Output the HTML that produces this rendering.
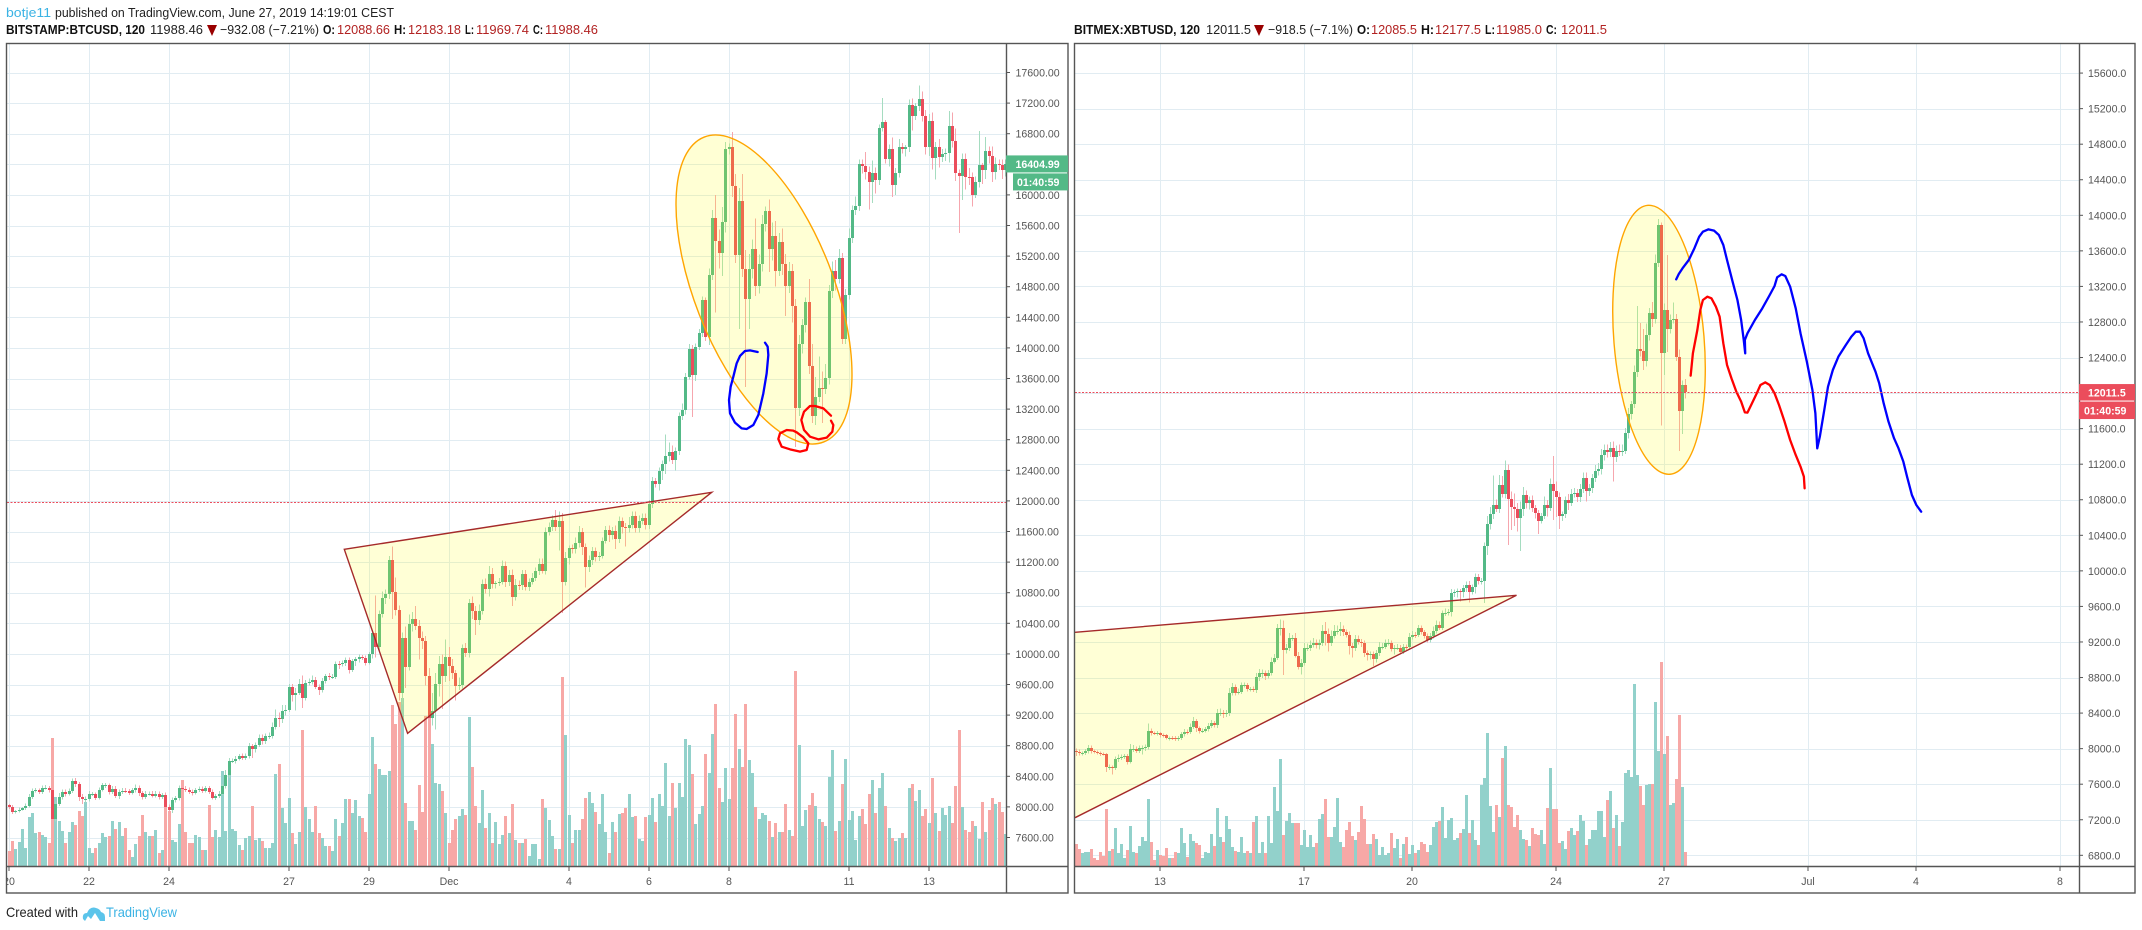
<!DOCTYPE html>
<html lang="en">
<head>
<meta charset="utf-8">
<title>BTCUSD charts</title>
<style>
html,body{margin:0;padding:0;background:#fff;width:2142px;height:930px;overflow:hidden}
svg{display:block}
text{font-family:"Liberation Sans",Arial,sans-serif}
.ax{font-size:10.6px;fill:#555}
.hd{font-size:13px;fill:#222}
.hb{font-size:13px;fill:#111;font-weight:bold}
.hr{font-size:13px;fill:#b22222}
.tag{font-size:10.6px;fill:#fff;font-weight:bold}
.free{fill:none;stroke-width:2.3;stroke-linejoin:round;stroke-linecap:round;vector-effect:non-scaling-stroke}
</style>
</head>
<body>
<svg id="root" xmlns="http://www.w3.org/2000/svg" width="2142" height="930" viewBox="0 0 2142 930">
<defs>
<clipPath id="clipL"><rect x="7" y="44" width="999" height="822"/></clipPath>
<clipPath id="clipR"><rect x="1075" y="44" width="1004" height="822"/></clipPath>
<clipPath id="clipLT"><rect x="7" y="867" width="999" height="26"/></clipPath>
</defs>
<rect width="2142" height="930" fill="#fff"/>

<g>
<text x="6" y="17" class="hd" style="fill:#3bb3e4" textLength="45" lengthAdjust="spacingAndGlyphs">botje11</text>
<text x="55" y="17" class="hd" textLength="339" lengthAdjust="spacingAndGlyphs">published on TradingView.com, June 27, 2019 14:19:01 CEST</text>
<text x="6" y="34" class="hb" textLength="139" lengthAdjust="spacingAndGlyphs">BITSTAMP:BTCUSD, 120</text>
<text x="150" y="34" class="hd" textLength="53" lengthAdjust="spacingAndGlyphs">11988.46</text>
<polygon points="207,25 217,25 212,36" fill="#990000"/>
<text x="220" y="34" class="hd" textLength="99" lengthAdjust="spacingAndGlyphs">−932.08 (−7.21%)</text>
<text x="323" y="34" class="hb" textLength="12" lengthAdjust="spacingAndGlyphs">O:</text>
<text x="337" y="34" class="hr" textLength="53" lengthAdjust="spacingAndGlyphs">12088.66</text>
<text x="394" y="34" class="hb" textLength="12" lengthAdjust="spacingAndGlyphs">H:</text>
<text x="408" y="34" class="hr" textLength="53" lengthAdjust="spacingAndGlyphs">12183.18</text>
<text x="465" y="34" class="hb" textLength="9" lengthAdjust="spacingAndGlyphs">L:</text>
<text x="476" y="34" class="hr" textLength="53" lengthAdjust="spacingAndGlyphs">11969.74</text>
<text x="533" y="34" class="hb" textLength="10" lengthAdjust="spacingAndGlyphs">C:</text>
<text x="545" y="34" class="hr" textLength="53" lengthAdjust="spacingAndGlyphs">11988.46</text>
</g>

<g>
<text x="1074" y="34" class="hb" textLength="126" lengthAdjust="spacingAndGlyphs">BITMEX:XBTUSD, 120</text>
<text x="1206" y="34" class="hd" textLength="45" lengthAdjust="spacingAndGlyphs">12011.5</text>
<polygon points="1254,25 1264,25 1259,36" fill="#990000"/>
<text x="1268" y="34" class="hd" textLength="85" lengthAdjust="spacingAndGlyphs">−918.5 (−7.1%)</text>
<text x="1357" y="34" class="hb" textLength="13" lengthAdjust="spacingAndGlyphs">O:</text>
<text x="1371" y="34" class="hr" textLength="46" lengthAdjust="spacingAndGlyphs">12085.5</text>
<text x="1421" y="34" class="hb" textLength="13" lengthAdjust="spacingAndGlyphs">H:</text>
<text x="1435" y="34" class="hr" textLength="46" lengthAdjust="spacingAndGlyphs">12177.5</text>
<text x="1485" y="34" class="hb" textLength="10" lengthAdjust="spacingAndGlyphs">L:</text>
<text x="1496" y="34" class="hr" textLength="46" lengthAdjust="spacingAndGlyphs">11985.0</text>
<text x="1546" y="34" class="hb" textLength="11" lengthAdjust="spacingAndGlyphs">C:</text>
<text x="1561" y="34" class="hr" textLength="46" lengthAdjust="spacingAndGlyphs">12011.5</text>
</g>

<g id="gridL"></g>
<g id="gridR"></g>
<g id="volL" clip-path="url(#clipL)" shape-rendering="crispEdges"></g>
<g id="volR" clip-path="url(#clipR)" shape-rendering="crispEdges"></g>
<g id="candL" clip-path="url(#clipL)" shape-rendering="crispEdges"></g>
<g id="candR" clip-path="url(#clipR)" shape-rendering="crispEdges"></g>

<g clip-path="url(#clipL)">
<polygon points="344.3,549.3 711.7,492.3 407.6,733.3" fill="rgba(255,255,0,.16)" stroke="#a52a2a" stroke-width="1.4"/>
<ellipse cx="764" cy="289.5" rx="163.7" ry="69.4" transform="rotate(68.6 764 289.5)" fill="rgba(255,255,0,.17)" stroke="#ffa500" stroke-width="1.4"/>
<g transform="translate(600,280) scale(.33333)">
<polyline class="free" stroke="#0000ff" points="473,216 450,211 435,213 420,228 410,250 400,290 392,320 387,360 390,400 405,428 425,445 440,447 460,435 475,405 490,340 500,280 505,225 503,200 495,188"/>
<polyline class="free" stroke="#ff0000" points="580,452 560,450 540,460 535,477 545,500 570,508 600,515 620,510 625,490 610,472 590,457 580,452"/>
<polyline class="free" stroke="#ff0000" points="693,407 670,385 645,378 630,378 612,395 604,420 612,450 630,470 655,478 680,473 697,455 700,435 693,422"/>
</g>
</g>

<g clip-path="url(#clipR)">
<polygon points="1075,632.3 1516.5,595.3 1075,817.7" fill="rgba(255,255,0,.16)" stroke="none"/>
<polyline points="1075,632.3 1516.5,595.3 1075,817.7" fill="none" stroke="#a52a2a" stroke-width="1.4"/>
<ellipse cx="1659" cy="339.8" rx="134.9" ry="45.1" transform="rotate(85.3 1659 339.8)" fill="rgba(255,255,0,.17)" stroke="#ffa500" stroke-width="1.4"/>
<g transform="translate(1560,180) scale(.37119,.33333)">
<polyline class="free" stroke="#0000ff" points="313,298 320,282 330,265 347,240 362,205 375,170 385,155 400,148 415,152 428,165 440,195 450,240 465,305 478,360 488,420 495,480 499,520 498,480 505,460 525,420 545,385 565,345 578,318 585,292 597,283 607,288 620,320 635,385 648,460 665,545 680,630 688,700 693,805 700,770 712,690 722,620 735,570 750,530 770,495 785,470 797,455 808,455 818,475 830,520 850,575 860,610 872,670 885,725 900,775 912,805 925,845 935,890 948,945 960,975 973,995"/>
<polyline class="free" stroke="#ff0000" points="352,587 358,520 370,450 378,390 385,360 397,350 408,355 420,380 430,410 440,490 450,555 462,595 475,635 488,665 498,697 505,698 515,675 530,640 540,615 553,607 565,615 578,640 590,675 605,725 620,780 635,825 648,860 657,890 659,925"/>
</g>
</g>

<g id="lastL"></g>
<g id="lastR"></g>
<g id="axesL"></g>
<g id="axesR"></g>

<g fill="none" stroke="#555" stroke-width="1.4">
<rect x="6.5" y="43.5" width="1061.5" height="849.5"/>
<line x1="1006.5" y1="43.5" x2="1006.5" y2="893"/>
<line x1="6.5" y1="866.5" x2="1068" y2="866.5"/>
<rect x="1074.5" y="43.5" width="1060.5" height="849.5"/>
<line x1="2079.5" y1="43.5" x2="2079.5" y2="893"/>
<line x1="1074.5" y1="866.5" x2="2135" y2="866.5"/>
</g>

<g id="tags"></g>

<g>
<text x="6" y="917" style="font-size:14px;fill:#222" textLength="72" lengthAdjust="spacingAndGlyphs">Created with</text>
<path d="M83,919 Q82,913 87,913 Q90,906 96,908 Q100,909 101,912 Q105,913 105,917 L105,921 L100,921 L95,913 L91,919 L88,916 L85,921 Z" fill="#5bc4ea"/>
<text x="106" y="917" style="font-size:14px;fill:#3bb3e4" textLength="71" lengthAdjust="spacingAndGlyphs">TradingView</text>
</g>
</svg>

<script>
// ---------- Left chart (BITSTAMP:BTCUSD) data ----------
const closesL = [
8000,7930,7945,7965,7980,8015,8130,8210,8215,8200,8250,8250,8215,7840,8040,8130,8195,8175,8210,8340,
8295,8130,8100,8100,8165,8165,8120,8225,8280,8280,8195,8240,8145,8195,8210,8205,8185,8215,8250,8180,
8130,8175,8175,8145,8175,8130,8160,8000,7955,8085,8110,8250,8240,8225,8195,8180,8220,8230,8210,8245,
8200,8120,8140,8175,8270,8415,8600,8600,8630,8660,8640,8660,8790,8760,8815,8905,8855,8925,8925,9045,
9165,9155,9255,9270,9570,9460,9495,9610,9430,9620,9638,9665,9570,9525,9650,9705,9695,9700,9870,9865,
9885,9920,9795,9905,9935,9960,9950,9880,10000,10275,10085,10525,10725,10780,11230,10815,10570,9490,10210,9830,
10395,10455,10360,10205,10165,9705,9165,9260,9610,9870,9705,9960,9845,9750,9585,9600,10075,10010,10665,10555,
10445,10565,10915,10850,11050,10915,10925,10945,11150,10945,11035,10745,10900,10895,11040,10870,10945,10995,11080,11180,
11090,11600,11665,11750,11665,11740,10945,11260,11380,11375,11450,11590,11395,11140,11230,11350,11265,11285,11480,11620,
11555,11610,11500,11735,11655,11645,11690,11800,11645,11740,11775,11685,11960,12260,12225,12385,12480,12585,12635,12530,
12650,13115,13190,13625,13990,13640,14010,14190,14620,14140,14950,15700,15400,15240,15640,16600,16620,16120,15210,15920,
15030,14640,15030,15290,14810,15100,15620,15790,15290,15460,15000,15380,15100,14810,15000,14550,13210,14050,14300,14600,
13760,13110,13360,13470,13460,13610,14745,15010,14900,15180,14110,14690,15440,15800,15850,16400,16380,16300,16170,16290,
16190,16880,16950,16470,16600,16130,16290,16630,16600,16620,17180,17030,17160,17260,17030,16630,16970,16480,16630,16490,
16540,16545,16900,16700,16280,16250,16470,16240,16230,16000,16170,16390,16330,16570,16510,16300,16400,16395,16320,16405];
const wickUpL = [
20,25,15,25,20,30,40,30,35,25,30,35,25,30,30,50,30,35,30,30,
40,30,40,35,40,30,25,30,35,30,25,35,30,35,35,40,30,35,45,30,
25,30,25,30,30,25,20,30,30,40,30,30,30,35,30,30,25,35,35,25,
30,25,30,30,30,70,40,30,35,30,35,40,45,30,30,40,40,35,50,60,
110,70,80,60,35,35,60,60,110,40,40,50,35,30,35,30,45,40,30,35,
30,35,30,30,25,30,25,30,25,40,490,45,90,60,50,175,185,60,70,150,
120,90,170,80,90,70,110,230,140,100,120,225,130,90,40,90,45,70,50,85,
70,80,60,70,100,70,30,50,70,60,65,70,80,60,60,60,40,60,50,70,
70,50,50,60,130,120,100,70,40,50,70,80,55,45,55,50,40,45,40,50,
60,50,70,60,50,55,100,60,60,70,60,60,50,50,40,50,50,280,130,90,
50,40,80,50,60,50,50,60,50,40,90,100,300,150,200,90,50,200,150,170,
350,250,200,130,400,120,120,60,150,180,200,120,180,130,120,100,90,120,80,60,
300,290,260,420,220,180,80,120,140,110,60,80,120,60,130,60,60,180,70,160,
70,40,315,30,60,150,60,100,50,30,70,80,40,170,90,80,90,110,60,100,
60,60,200,180,170,50,70,70,110,60,70,445,30,185,60,120,90,60,70,60];
const wickDownL = [
30,25,15,15,15,20,25,25,25,30,30,25,30,60,30,30,30,40,25,30,
35,50,60,40,30,25,30,25,25,30,30,25,30,40,25,25,30,25,25,35,
30,25,25,20,25,35,25,30,60,35,30,25,25,30,25,30,20,25,30,25,
30,25,30,25,20,30,40,25,30,25,30,30,30,120,50,30,40,30,35,30,
35,110,60,60,30,80,200,30,140,40,30,40,30,60,30,40,35,25,30,60,
30,40,50,30,60,50,30,30,20,60,130,60,50,70,60,360,70,100,150,275,
50,100,50,280,100,120,70,100,250,170,425,70,200,80,195,60,50,50,60,100,
200,70,50,60,100,60,60,40,40,70,60,120,50,60,60,40,50,40,40,50,
40,50,50,60,60,315,410,50,90,60,60,60,100,270,70,70,60,50,40,40,
90,60,130,50,80,240,60,50,60,60,50,60,50,50,50,90,110,130,70,50,
130,50,60,60,40,545,70,40,50,50,100,60,940,200,300,130,70,150,100,960,
100,1150,390,120,130,100,100,100,300,150,200,60,150,390,90,220,505,100,120,100,
100,90,120,70,440,60,90,90,150,60,60,60,60,70,60,60,100,100,360,275,
170,60,50,60,100,160,130,60,60,100,60,190,50,60,70,100,120,150,280,130,
60,100,120,80,100,750,315,170,100,150,40,70,190,120,100,130,100,70,110,80];
const volumeL = [
15,25,17,24,37,18,49,53,33,34,31,29,23,128,69,45,35,23,34,44,
41,55,50,64,18,13,18,23,33,29,30,45,37,44,30,38,16,9,22,30,
51,34,30,30,36,13,16,60,55,26,24,42,86,34,23,23,31,29,16,16,
61,29,36,29,95,35,92,37,35,21,16,28,30,60,26,28,25,18,18,23,
92,102,58,43,68,33,22,34,136,59,47,34,60,33,28,20,20,15,47,30,
43,67,67,53,66,50,48,34,72,129,102,97,91,91,95,161,142,164,168,63,
45,45,36,81,54,150,150,122,83,82,75,53,23,36,47,50,57,51,149,99,
60,43,76,38,53,23,44,22,31,50,33,62,26,23,23,27,10,22,22,7,
67,58,46,30,17,17,189,131,51,23,36,36,47,68,74,63,54,42,72,34,
13,44,34,52,53,58,72,49,50,27,25,49,51,68,44,72,60,103,50,83,
58,83,69,127,121,92,42,52,60,112,93,132,162,78,64,98,67,98,152,117,
99,162,106,93,59,47,53,51,45,29,43,34,34,62,36,30,195,121,40,56,
61,73,60,47,44,40,89,116,35,45,82,107,46,55,26,50,57,42,72,86,
53,78,93,60,38,28,25,28,33,28,78,82,65,76,50,57,43,88,53,35,
58,51,60,43,80,136,59,36,34,45,40,27,64,34,56,68,62,64,54,32];
const priceTicksL = [17600,17200,16800,16400,16000,15600,15200,14800,14400,14000,13600,13200,12800,12400,12000,11600,11200,10800,10400,10000,9600,9200,8800,8400,8000,7600];
const dateLabelsL = ['20','22','24','27','29','Dec','4','6','8','11','13'];
const dateDaysL = [0,2,4,7,9,11,14,16,18,21,23];
const lastPriceL = 11988.46;
const tagPriceL = 16404.99;
const firstOpenL = 8020;

// ---------- Right chart (BITMEX:XBTUSD) data ----------
const closesR = [
7960,7947,7950,7973,8010,7973,7965,7955,7940,7938,7790,7792,7778,7880,7900,7910,7912,7853,7992,8000,
7977,8003,8005,8015,8195,8172,8170,8172,8153,8152,8123,8124,8120,8112,8125,8160,8190,8185,8247,8307,
8228,8198,8200,8220,8257,8285,8265,8397,8405,8385,8397,8622,8690,8630,8640,8715,8716,8667,8670,8665,
8802,8847,8848,8820,8855,8978,9015,9353,9354,9110,9128,9240,9241,9046,8922,8967,9128,9130,9165,9185,
9165,9185,9323,9290,9192,9267,9323,9325,9346,9308,9278,9158,9128,9230,9196,9185,9080,9053,9060,9008,
9072,9147,9148,9185,9186,9117,9136,9137,9090,9147,9140,9252,9282,9275,9353,9308,9267,9222,9267,9327,
9390,9360,9522,9525,9533,9747,9762,9770,9758,9803,9840,9765,9815,9930,9886,9887,10280,10527,10636,10740,
10692,10966,10865,11134,10812,10722,10692,10594,10692,10853,10760,10797,10703,10647,10565,10613,10737,10711,10977,10894,
10834,10620,10636,10797,10767,10865,10872,10834,10917,11044,10902,10928,11040,11123,11142,11303,11360,11333,11386,11284,
11352,11333,11352,11547,11760,11873,12233,12492,12470,12360,12653,12897,12833,13460,13890,12455,12935,12720,12822,12830,
12410,11800,12090,12011.5];
const wickUpR = [
25,30,20,25,30,25,20,15,15,15,15,30,20,30,35,25,30,30,60,40,
25,30,30,30,90,30,20,25,15,15,15,15,20,20,20,25,30,25,35,50,
25,20,25,25,30,35,25,50,45,30,35,60,50,30,35,30,30,25,25,30,
50,50,40,30,30,50,50,50,100,90,50,60,40,60,40,40,60,50,50,60,
40,40,70,100,60,60,70,60,80,40,30,40,30,50,40,40,30,25,30,30,
40,50,40,40,50,30,30,40,30,30,25,50,40,30,40,35,25,30,35,45,
50,40,30,50,40,50,30,30,25,40,40,45,30,40,35,30,40,90,80,330,
60,110,100,110,65,80,150,70,90,90,50,40,50,40,40,40,100,60,60,315,
110,50,30,40,70,55,60,50,60,60,60,50,50,70,70,70,60,60,65,70,
60,70,70,60,70,40,80,490,295,250,130,60,130,100,70,30,70,620,60,190,
60,80,50,70];
const wickDownR = [
40,25,25,20,25,25,20,20,20,15,50,30,70,20,30,30,25,30,20,30,
25,25,70,30,25,25,15,20,30,25,20,30,25,25,25,30,25,25,20,25,
40,25,20,20,25,25,25,30,30,40,30,30,25,30,20,25,25,25,25,30,
40,40,50,50,30,30,20,20,80,280,40,30,30,20,30,90,30,30,30,30,
40,50,30,130,100,40,30,40,60,40,30,100,100,30,25,40,50,60,50,80,
40,30,30,25,25,25,60,25,30,25,30,25,25,30,20,25,30,30,30,30,
30,25,25,30,30,45,40,60,100,60,40,120,30,70,40,40,250,100,60,50,
30,40,40,50,520,260,190,150,370,75,60,70,40,60,150,30,30,100,40,320,
230,150,60,40,80,40,40,60,60,40,120,60,50,40,50,60,60,60,50,280,
60,40,40,40,60,60,40,50,60,100,60,60,90,50,40,820,250,260,50,40,
50,450,260,70];
const volumeR = [
22,17,13,14,14,17,8,6,14,10,57,15,17,38,13,22,8,16,40,14,
13,20,29,25,67,24,6,16,11,10,18,8,8,14,13,38,23,9,32,25,
23,21,8,14,13,32,20,58,29,24,50,37,19,15,14,29,13,15,13,44,
50,13,24,13,50,23,79,55,107,31,45,53,43,43,43,21,36,19,31,19,
23,47,52,67,29,29,39,68,24,19,36,44,30,26,34,60,47,22,22,32,
27,11,19,11,13,33,18,27,8,22,29,12,21,13,16,24,22,14,21,39,
44,45,59,28,46,48,26,28,33,37,71,33,46,26,21,81,88,133,60,34,
61,49,108,120,61,59,39,51,36,27,26,20,38,32,31,36,22,58,98,57,
57,23,25,17,35,38,31,35,51,45,21,27,36,36,55,55,29,66,75,38,
51,20,44,93,96,89,182,91,80,61,81,82,82,164,115,204,112,130,61,63,
87,151,79,14];
const priceTicksR = [15600,15200,14800,14400,14000,13600,13200,12800,12400,12000,11600,11200,10800,10400,10000,9600,9200,8800,8400,8000,7600,7200,6800];
const dateLabelsR = ['13','17','20','24','27','Jul','4','8'];
const dateDaysR = [0,4,7,11,14,18,21,25];
const lastPriceR = 12011.5;
const firstOpenR = 7975;

// ---------- Axis functions ----------
const SPD = 12; // candles per day
function xDayL(d){ return 9 + d * 40; }
function xL(i){ return xDayL(i / SPD); }
function yL(p){ return 72.5 + (17600 - p) * 0.0765; }
function xDayR(d){ return 1160 + d * 36; }
function xR(j){ return xDayR((j - 28) / SPD); }
function yR(p){ return 215.3 + (14000 - p) * 0.08889; }
function yVol(v){ return 866 - v; }

const NS = 'http://www.w3.org/2000/svg';
function mk(tag, attrs, parent){
  const el = document.createElementNS(NS, tag);
  for (const k in attrs) el.setAttribute(k, attrs[k]);
  parent.appendChild(el);
  return el;
}
const UP = '#53b987', DOWN = '#eb4d5c', UPW = '#a5dcc0', DOWNW = '#f6a6ae';
const UPV = '#92d1cb', DOWNV = '#f7a8a6', GRID = '#e1ecf2';

function drawGrid(g, ticks, days, yF, xDay, x0, x1){
  ticks.forEach(function(p){
    const l = mk('line', {x1:x0, x2:x1, y1:Math.round(yF(p))+.5, y2:Math.round(yF(p))+.5, stroke:GRID, 'stroke-width':1}, g);
    
    
  });
  days.forEach(function(d){
    const x = Math.round(xDay(d))+.5;
    const l = mk('line', {x1:x, x2:x, y1:44, y2:866, stroke:GRID, 'stroke-width':1}, g);
    
    
  });
}
function drawAxes(g, ticks, digits, labels, days, yF, xDay, axisX, labelX, clip){
  ticks.forEach(function(p){
    const y = yF(p);
    const t = mk('line', {x1:axisX, x2:axisX+4, y1:y, y2:y, stroke:'#555', 'stroke-width':1}, g);
    
    
    const s = mk('text', {x:labelX, y:y+4, 'class':'ax'}, g);
    s.textContent = p.toFixed(digits);
    
    
  });
  labels.forEach(function(lbl, k){
    const x = xDay(days[k]);
    const t = mk('line', {x1:x, x2:x, y1:867, y2:871, stroke:'#555', 'stroke-width':1}, g);
    
    
    const a = {x:x, y:885, 'class':'ax', 'text-anchor':'middle'};
    if (clip) a['clip-path'] = clip;
    const s = mk('text', a, g);
    s.textContent = lbl;
    
    
  });
}
function drawVolume(g, closes, vols, firstOpen, xF){
  vols.forEach(function(v, i){
    const o = i ? closes[i-1] : firstOpen;
    const top = Math.round(yVol(v));
    const r = mk('rect', {x:Math.round(xF(i)-1.5), y:top, width:3, height:866-top, fill: closes[i] >= o ? UPV : DOWNV}, g);
    
    
  });
}
function drawCandles(g, closes, up, down, firstOpen, xF, yF, w){
  closes.forEach(function(c, i){
    const o = i ? closes[i-1] : firstOpen;
    const rise = c >= o;
    const bx = Math.round(xF(i)-1.5);
    const hi = Math.max(o, c) + (up[i] || 0);
    const lo = Math.min(o, c) - (down[i] || 0);
    const wick = mk('line', {x1:bx+1.5, x2:bx+1.5, y1:yF(hi), y2:yF(lo), stroke: rise ? UPW : DOWNW, 'stroke-width':1}, g);
    
    
    const yt = Math.round(yF(Math.max(o, c)));
    const yb = Math.round(yF(Math.min(o, c)));
    const b = mk('rect', {x:bx+(3-w)/2, y:yt, width:w, height:Math.max(1, yb-yt), fill: rise ? UP : DOWN}, g);
    
    
  });
}
function drawLast(g, p, yF, x0, x1){
  const y = Math.round(yF(p))+.5;
  const l = mk('line', {x1:x0, x2:x1, y1:y, y2:y, stroke:DOWN, 'stroke-width':1, 'stroke-dasharray':'2 1.5'}, g);
  
  
}
function drawTag(g, name, txt, x, y, w, h, color, tx){
  const r = mk('rect', {x:x, y:y, width:w, height:h, fill:color}, g);
  
  
  const t = mk('text', {x:tx, y:y+h/2+4, 'class':'tag'}, g);
  t.textContent = txt;
  
  
}

const $ = function(id){ return document.getElementById(id); };
drawGrid($('gridL'), priceTicksL, dateDaysL, yL, xDayL, 7, 1006);
drawGrid($('gridR'), priceTicksR, dateDaysR, yR, xDayR, 1075, 2079);
drawVolume($('volL'), closesL, volumeL, firstOpenL, xL);
drawVolume($('volR'), closesR, volumeR, firstOpenR, xR);
drawCandles($('candL'), closesL, wickUpL, wickDownL, firstOpenL, xL, yL, 3);
drawCandles($('candR'), closesR, wickUpR, wickDownR, firstOpenR, xR, yR, 3);
drawLast($('lastL'), lastPriceL, yL, 7, 1006);
drawLast($('lastR'), lastPriceR, yR, 1075, 2079);
drawAxes($('axesL'), priceTicksL, 2, dateLabelsL, dateDaysL, yL, xDayL, 1006, 1015.5, 'url(#clipLT)');
drawAxes($('axesR'), priceTicksR, 1, dateLabelsR, dateDaysR, yR, xDayR, 2079, 2088, null);
const tyL = yL(tagPriceL), tyR = yR(lastPriceR);
drawTag($('tags'), 'left-current-price-tag', tagPriceL.toFixed(2), 1006, tyL-8.5, 62, 17, UP, 1015.5);
drawTag($('tags'), 'left-countdown-tag', '01:40:59', 1013, tyL+9.5, 55, 17, UP, 1017);
drawTag($('tags'), 'right-last-price-tag', lastPriceR.toFixed(1), 2079, tyR-8, 56, 16.5, DOWN, 2088);
drawTag($('tags'), 'right-countdown-tag', '01:40:59', 2079, tyR+9.5, 56, 17.5, DOWN, 2084);
</script>
</body>
</html>
